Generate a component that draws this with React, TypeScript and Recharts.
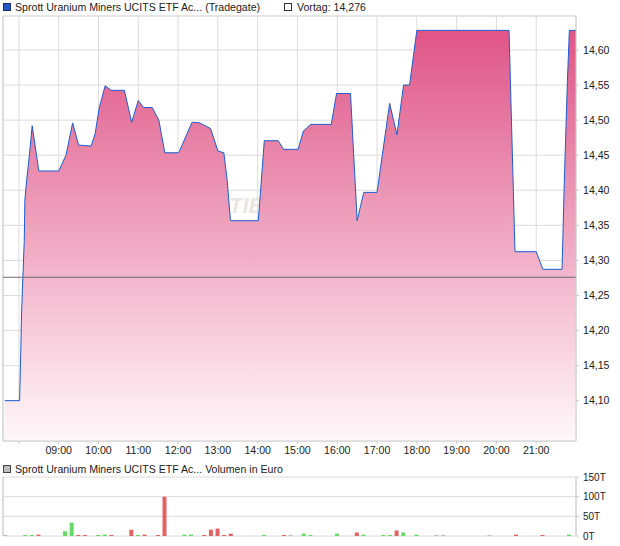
import React from 'react';
import {
  AreaChart,
  Area,
  XAxis,
  YAxis,
  CartesianGrid,
  ReferenceLine,
  BarChart,
  Bar,
  Cell,
} from 'recharts';

// ---------- data ----------
const priceTimes = [
  '07:39', '08:01', '08:03', '08:04', '08:06', '08:08', '08:09', '08:11', '08:14', '08:17',
  '08:20', '08:30', '09:00', '09:11', '09:21', '09:30', '09:49', '09:55', '10:01', '10:10',
  '10:19', '10:39', '10:50', '11:00', '11:08', '11:21', '11:31', '11:40', '12:01', '12:21',
  '12:32', '12:49', '13:00', '13:09', '13:14', '13:19', '14:01', '14:10', '14:31', '14:39',
  '15:01', '15:09', '15:20', '15:51', '15:59', '16:20', '16:30', '16:40', '17:00', '17:19',
  '17:30', '17:40', '17:49', '18:00', '20:19', '20:28', '21:00', '21:10', '21:39', '21:42',
  '21:47', '21:50', '22:00',
];
const priceValues = [
  14.1, 14.1, 14.177, 14.225, 14.277, 14.327, 14.386, 14.408, 14.434, 14.462,
  14.492, 14.4275, 14.4275, 14.45, 14.496, 14.4645, 14.463, 14.481, 14.517, 14.549,
  14.5425, 14.5425, 14.497, 14.528, 14.518, 14.518, 14.5, 14.4535, 14.4535, 14.497,
  14.4963, 14.488, 14.456, 14.4535, 14.4146, 14.3566, 14.3566, 14.4707, 14.4707, 14.4584,
  14.4584, 14.4845, 14.494, 14.494, 14.538, 14.538, 14.3566, 14.397, 14.397, 14.524,
  14.479, 14.55, 14.55, 14.628, 14.628, 14.3124, 14.3124, 14.2873, 14.2873, 14.4004,
  14.5548, 14.628, 14.628,
];
const previousClose = 14.276;

const volumeTimes = [
  '07:40', '08:10', '08:20', '08:30', '09:10', '09:20', '09:30', '09:40', '10:00', '10:10',
  '10:20', '10:50', '11:00', '11:10', '11:30', '11:40', '12:10', '12:20', '12:40', '12:50',
  '13:00', '13:10', '13:20', '14:10', '14:40', '14:50', '15:10', '15:20', '16:00', '16:30',
  '16:40', '17:10', '17:20', '17:30', '17:40', '18:00', '18:30', '18:40', '19:50', '20:30',
  '21:10', '21:50',
];
// thousands of euro (T)
const volumeValues = [
  2.5, 2.5, 2.5, 3.5, 12, 34, 2.5, 2.5, 2.5, 3.5,
  2.5, 16, 2.5, 3.5, 2.5, 100, 3.5, 3.5, 2.5, 16,
  19, 2.5, 6, 2.5, 2.5, 2.5, 6, 2.5, 6, 9,
  3.5, 2.5, 2.5, 14, 9, 3.5, 2.5, 2.5, 2.5, 3.5,
  2.5, 3.5,
];
const volumeDirections = [
  'flat', 'up', 'up', 'down', 'up', 'up', 'down', 'down', 'up', 'up',
  'down', 'down', 'up', 'down', 'down', 'down', 'up', 'up', 'down', 'down',
  'down', 'down', 'down', 'up', 'down', 'flat', 'up', 'up', 'up', 'down',
  'up', 'up', 'up', 'down', 'up', 'up', 'flat', 'flat', 'flat', 'down',
  'down', 'up',
];

const hourTicks = [
  '08:00', '09:00', '10:00', '11:00', '12:00', '13:00', '14:00',
  '15:00', '16:00', '17:00', '18:00', '19:00', '20:00', '21:00',
];
const priceTicks = [14.1, 14.15, 14.2, 14.25, 14.3, 14.35, 14.4, 14.45, 14.5, 14.55, 14.6];
const priceDomain = [14.0425, 14.6485];
const volumeTicks = [0, 50, 100, 150];
const timeDomainLabels = ['07:36', '22:00'];

const seriesName = 'Sprott Uranium Miners UCITS ETF Ac... (Tradegate)';
const prevName = 'Vortag: 14,276';
const volumeName = 'Sprott Uranium Miners UCITS ETF Ac... Volumen in Euro';
const watermark = 'TIE';

// ---------- helpers ----------
const toMin = (s: string) => {
  const [h, m] = s.split(':').map(Number);
  return h * 60 + m;
};
const fmtTime = (m: number) =>
  `${String(Math.floor(m / 60)).padStart(2, '0')}:${String(m % 60).padStart(2, '0')}`;

const priceData = priceTimes.map((t, i) => ({ t: toMin(t), v: priceValues[i] }));
const volumeData = volumeTimes.map((t, i) => ({ t: toMin(t), v: volumeValues[i], d: volumeDirections[i] }));
const hourTickMins = hourTicks.map(toMin);
const xDomain = timeDomainLabels.map(toMin);

const COLORS: Record<string, string> = { up: '#66d966', down: '#e06464', flat: '#bdbdbd' };
const FONT = '"Liberation Sans", Arial, sans-serif';
const GRID = '#dcdcdc';
const AXIS = '#cccccc';
const TEXT = '#222';

export default function App() {
  return (
    <div style={{ position: 'absolute', left: 0, top: 0, width: 620, height: 546, background: '#fff', fontFamily: FONT }}>
      {/* watermark behind the chart */}
      <svg width={620} height={546} style={{ position: 'absolute', left: 0, top: 0 }}>
        <text x={229} y={213} fontFamily={FONT} fontStyle="italic" fontWeight="bold" fontSize={22} fill="#ebe6e1">
          {watermark}
        </text>
      </svg>

      {/* legends */}
      <div style={{ position: 'absolute', left: 3, top: 3, width: 6, height: 6, background: '#2458c4', border: '1px solid #1a2f6a' }} />
      <div style={{ position: 'absolute', left: 15, top: 0, fontSize: 10.6, lineHeight: '14px', color: TEXT, whiteSpace: 'nowrap' }}>
        {seriesName}
      </div>
      <div style={{ position: 'absolute', left: 284, top: 3, width: 6, height: 6, background: '#fff', border: '1px solid #333' }} />
      <div style={{ position: 'absolute', left: 297, top: 0, fontSize: 10.6, lineHeight: '14px', color: TEXT, whiteSpace: 'nowrap' }}>
        {prevName}
      </div>
      <div style={{ position: 'absolute', left: 3, top: 465, width: 6, height: 6, background: '#bdbdbd', border: '1px solid #444' }} />
      <div style={{ position: 'absolute', left: 15, top: 462, fontSize: 10.6, lineHeight: '14px', color: TEXT, whiteSpace: 'nowrap' }}>
        {volumeName}
      </div>

      {/* price chart */}
      <div style={{ position: 'absolute', left: 0, top: 0 }}>
        <AreaChart width={620} height={460} data={priceData} margin={{ top: 16, right: 0, bottom: 0, left: 3 }}>
          <defs>
            <linearGradient id="priceFill" x1="0" y1="0" x2="0" y2="1">
              <stop offset="0" stopColor="#df5587" />
              <stop offset="1" stopColor="#fff8fa" />
            </linearGradient>
          </defs>
          <CartesianGrid stroke={GRID} />
          <XAxis
            type="number"
            dataKey="t"
            domain={xDomain}
            allowDataOverflow
            ticks={hourTickMins}
            interval={0}
            tickFormatter={(m: number) => (m === hourTickMins[0] ? '' : fmtTime(m))}
            height={19}
            tickSize={3}
            tickMargin={2}
            axisLine={{ stroke: AXIS }}
            tickLine={{ stroke: AXIS }}
            tick={{ fontSize: 10.6, fill: TEXT, fontFamily: FONT }}
          />
          <YAxis
            orientation="right"
            type="number"
            domain={priceDomain}
            allowDataOverflow
            ticks={priceTicks}
            interval={0}
            width={44}
            tickSize={3}
            tickMargin={4}
            tickFormatter={(v: number) => v.toFixed(2).replace('.', ',')}
            axisLine={{ stroke: AXIS }}
            tickLine={{ stroke: AXIS }}
            tick={{ fontSize: 10.6, fill: TEXT, fontFamily: FONT, textAnchor: 'start' }}
          />
          <ReferenceLine y={priceDomain[1]} stroke={GRID} />
          <ReferenceLine x={xDomain[0]} stroke={AXIS} />
          <Area
            type="linear"
            dataKey="v"
            stroke="#1d5ccc"
            strokeWidth={1}
            fill="url(#priceFill)"
            fillOpacity={1}
            dot={false}
            activeDot={false}
            isAnimationActive={false}
          />
          <ReferenceLine y={previousClose} stroke="#6b6b6b" />
        </AreaChart>
      </div>

      {/* volume chart */}
      <div style={{ position: 'absolute', left: 0, top: 470 }}>
        <BarChart width={620} height={76} data={volumeData} margin={{ top: 7, right: 0, bottom: 10, left: 3 }}>
          <CartesianGrid stroke={GRID} />
          <XAxis
            type="number"
            dataKey="t"
            domain={xDomain}
            allowDataOverflow
            ticks={hourTickMins}
            interval={0}
            height={0}
            tick={false}
            tickLine={false}
            axisLine={{ stroke: AXIS }}
          />
          <YAxis
            orientation="right"
            type="number"
            domain={[0, 150]}
            allowDataOverflow
            ticks={volumeTicks}
            interval={0}
            width={44}
            tickSize={3}
            tickMargin={4}
            tickFormatter={(v: number) => `${v}T`}
            axisLine={{ stroke: AXIS }}
            tickLine={{ stroke: AXIS }}
            tick={{ fontSize: 10, fill: TEXT, fontFamily: FONT, textAnchor: 'start' }}
          />
          <ReferenceLine x={xDomain[0]} stroke={AXIS} />
          <Bar dataKey="v" barSize={4} isAnimationActive={false}>
            {volumeData.map((d, i) => (
              <Cell key={i} fill={COLORS[d.d]} />
            ))}
          </Bar>
        </BarChart>
      </div>
    </div>
  );
}
